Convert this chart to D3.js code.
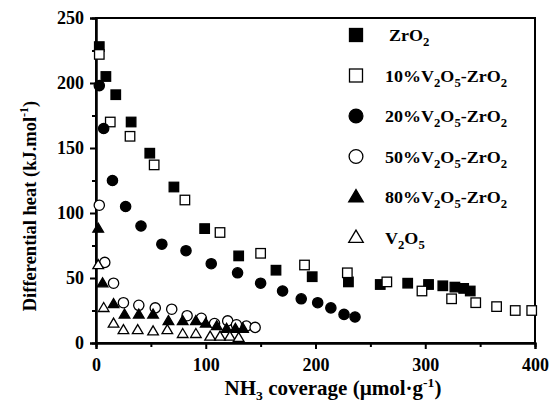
<!DOCTYPE html>
<html><head><meta charset="utf-8">
<script src="https://cdn.jsdelivr.net/npm/d3@7/dist/d3.min.js"></script>
<style>
body{margin:0;background:#fff;}
svg{display:block;}
text{font-family:"Liberation Serif","Times New Roman",serif;font-weight:bold;fill:#000;}
</style></head>
<body>
<svg id="chart" width="553" height="406"></svg>
<script>
// ---- data ----
const zro2X = [3, 9, 18, 32, 49, 71, 99, 130, 164, 197, 230, 259, 284, 303, 316, 327, 335, 341];
const zro2Y = [228, 205, 191, 170, 146, 120, 88, 67, 56, 51, 47, 45, 46, 45, 44, 43, 42, 40];
const v10X = [3, 13, 31, 53, 81, 113, 150, 190, 229, 265, 297, 324, 346, 365, 382, 397];
const v10Y = [222, 170, 159, 137, 110, 85, 69, 60, 54, 47, 40, 34, 31, 28, 25, 25];
const v20X = [3, 7, 15, 27, 41, 60, 82, 105, 129, 150, 170, 187, 202, 214, 226, 236];
const v20Y = [198, 165, 125, 105, 90, 76, 71, 61, 54, 46, 40, 34, 31, 27, 22, 20];
const v50X = [3, 8, 16, 25, 39, 54, 69, 83, 96, 108, 120, 128, 137, 145];
const v50Y = [106, 62, 46, 31, 29, 27, 26, 21, 19, 15, 17, 14, 13, 12];
const v80X = [2, 6, 16, 26, 39, 52, 66, 79, 91, 100, 110, 119, 127, 134];
const v80Y = [88, 46, 30, 22, 22, 22, 17, 17, 17, 15, 13, 11, 11, 11];
const v2o5X = [2, 7, 16, 25, 38, 52, 65, 79, 91, 104, 113, 122, 130];
const v2o5Y = [60, 27, 15, 10, 10, 9, 10, 7, 7, 5, 5, 5, 4];

const seriesNames = ["ZrO2", "10%V2O5-ZrO2", "20%V2O5-ZrO2", "50%V2O5-ZrO2", "80%V2O5-ZrO2", "V2O5"];
const xTicks = [0, 100, 200, 300, 400];
const yTicks = [0, 50, 100, 150, 200, 250];

// ---- build ----
const series = [
  {name: seriesNames[0], xs: zro2X, ys: zro2Y, shape: "square", filled: true},
  {name: seriesNames[1], xs: v10X, ys: v10Y, shape: "square", filled: false},
  {name: seriesNames[2], xs: v20X, ys: v20Y, shape: "circle", filled: true},
  {name: seriesNames[3], xs: v50X, ys: v50Y, shape: "circle", filled: false},
  {name: seriesNames[4], xs: v80X, ys: v80Y, shape: "triangle", filled: true},
  {name: seriesNames[5], xs: v2o5X, ys: v2o5Y, shape: "triangle", filled: false}
];

const svg = d3.select("#chart");
const L = 96, R = 535, T = 18, B = 343;
const x = d3.scaleLinear().domain([0, 400]).range([L, R]);
const y = d3.scaleLinear().domain([0, 250]).range([B, T]);

// frame
svg.append("rect").attr("x", L).attr("y", T).attr("width", R - L).attr("height", B - T)
  .attr("fill", "none").attr("stroke", "#000").attr("stroke-width", 2);

// axes
const xAxis = svg.append("g").attr("transform", `translate(0,${B})`)
  .call(d3.axisBottom(x).tickValues(xTicks).tickSize(6).tickPadding(9).tickFormat(d3.format("d")));
const xMinor = svg.append("g").attr("transform", `translate(0,${B})`)
  .call(d3.axisBottom(x).tickValues([50, 150, 250, 350]).tickSize(4).tickFormat(""));
const yAxis = svg.append("g").attr("transform", `translate(${L},0)`)
  .call(d3.axisLeft(y).tickValues(yTicks).tickSize(6).tickPadding(6).tickFormat(d3.format("d")));
const yMinor = svg.append("g").attr("transform", `translate(${L},0)`)
  .call(d3.axisLeft(y).tickValues([25, 75, 125, 175, 225]).tickSize(4).tickFormat(""));
[xAxis, xMinor, yAxis, yMinor].forEach(g => {
  g.select(".domain").attr("stroke-width", 2);
  g.selectAll(".tick line").attr("stroke-width", 2);
  g.selectAll("text").attr("font-size", 18).style("font-family", '"Liberation Serif",serif').style("font-weight", "bold");
});

// markers
function drawMarker(g, shape, filled, cx, cy, s) {
  const fill = filled ? "#000" : "#fff";
  const sw = 1.3;
  if (shape === "square") {
    g.append("rect").attr("x", cx - s / 2).attr("y", cy - s / 2).attr("width", s).attr("height", s)
      .attr("fill", fill).attr("stroke", "#000").attr("stroke-width", sw);
  } else if (shape === "circle") {
    g.append("circle").attr("cx", cx).attr("cy", cy).attr("r", s / 2 + 0.4)
      .attr("fill", fill).attr("stroke", "#000").attr("stroke-width", sw);
  } else {
    const h = s * 0.95, w = s * 1.12;
    g.append("path").attr("d", `M${cx},${cy - h * 0.6}L${cx + w / 2},${cy + h * 0.4}L${cx - w / 2},${cy + h * 0.4}Z`)
      .attr("fill", fill).attr("stroke", "#000").attr("stroke-width", sw);
  }
}

const plot = svg.append("g");
series.forEach(sr => {
  const g = plot.append("g");
  sr.xs.forEach((v, i) => drawMarker(g, sr.shape, sr.filled, x(v), y(sr.ys[i]), 9.5));
});

// chemical text with subscripts (digit after a letter)
function chem(t, s, subSize, shift) {
  let cur = 0;
  let buf = "", bufSub = false;
  const flush = () => {
    if (!buf) return;
    const target = bufSub ? shift : 0;
    const sp = t.append("tspan").attr("dy", target - cur).text(buf);
    if (bufSub) sp.attr("font-size", subSize);
    cur = target;
    buf = "";
  };
  for (let i = 0; i < s.length; i++) {
    const c = s[i], prev = s[i - 1];
    const sub = /[0-9]/.test(c) && prev !== undefined && /[A-Za-z]/.test(prev);
    if (sub !== bufSub) { flush(); bufSub = sub; }
    buf += c;
  }
  flush();
}

// legend
const leg = svg.append("g");
const legY0 = 35, legDY = 40.5;
series.forEach((sr, i) => {
  const cy = legY0 + i * legDY;
  drawMarker(leg, sr.shape, sr.filled, 356, cy, 13);
  const tx = i === 0 ? 389 : 385;
  const t = leg.append("text").attr("transform", `translate(${tx},${cy + 6}) scale(1.06,1)`).attr("font-size", 17);
  chem(t, sr.name, 12, 5);
});

// axis titles
const yt = svg.append("text").attr("transform", `translate(36,206) rotate(-90)`)
  .attr("text-anchor", "middle").attr("font-size", 18.5);
yt.append("tspan").text("Differential heat (kJ.mol");
yt.append("tspan").attr("font-size", 12).attr("dy", -8).text("-1");
yt.append("tspan").attr("dy", 8).text(")");

const xt = svg.append("text").attr("transform", "translate(333,395) scale(1.05,1)").attr("text-anchor", "middle").attr("font-size", 20);
xt.append("tspan").text("NH");
xt.append("tspan").attr("font-size", 13).attr("dy", 5).text("3");
xt.append("tspan").attr("dy", -5).text(" coverage (\u00b5mol\u00b7g");
xt.append("tspan").attr("font-size", 13).attr("dy", -8).text("-1");
xt.append("tspan").attr("dy", 8).text(")");
</script>
</body></html>
